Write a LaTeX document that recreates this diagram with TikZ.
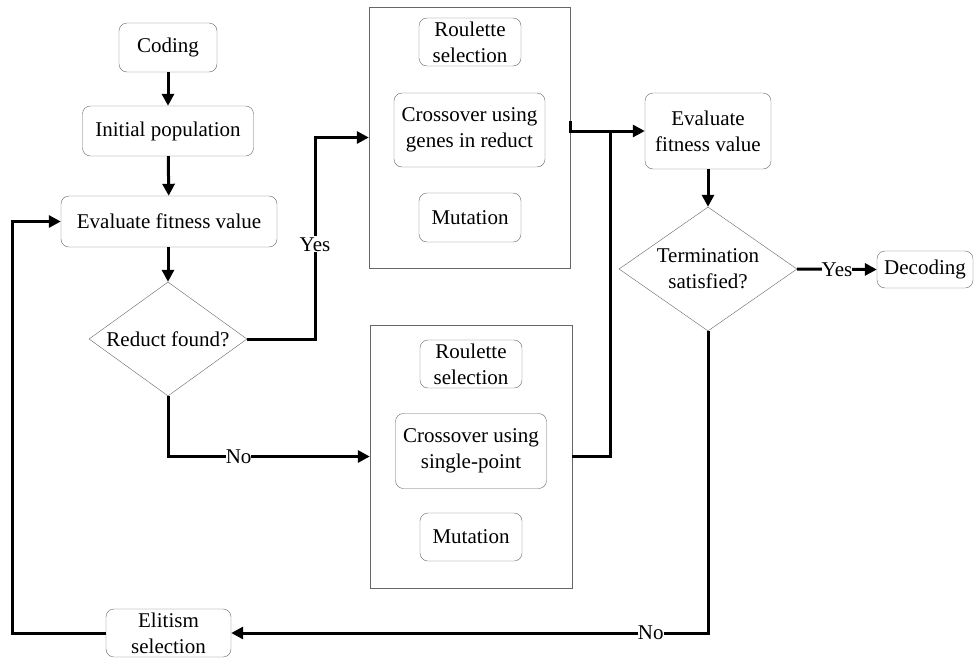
\documentclass[tikz,border=0pt]{standalone}
\usepackage{fontspec}
\setmainfont{Liberation Serif}
\usetikzlibrary{shapes.geometric,arrows.meta}
\tikzset{
    stepbox/.style={draw=black!60, rounded corners=8pt, align=center, inner sep=1pt},
    groupbox/.style={draw=black!60, inner sep=0pt},
    decision/.style={draw=black!60, diamond, align=center, inner sep=0pt},
    conn/.style={line width=3pt, -{Triangle[length=12pt,width=12pt]}},
    link/.style={line width=3pt},
    lbl/.style={fill=white, inner sep=1pt}
}
\begin{document}
\begin{tikzpicture}[x=1pt, y=-1pt, font=\fontsize{21}{26}\selectfont]
    \useasboundingbox (0,0) rectangle (974,659);
    % main loop
    \node[stepbox, minimum width=98pt, minimum height=49pt] (coding) at (168,47.5) {Coding};
    \node[stepbox, minimum width=171pt, minimum height=50pt] (init) at (168,131) {Initial population};
    \node[stepbox, minimum width=216pt, minimum height=51pt] (eval) at (169,221.5) {Evaluate fitness value};
    \node[decision, shape aspect=1.39, minimum width=158pt, minimum height=114pt] (reduct) at (168,339) {Reduct found?};
    \node[stepbox, minimum width=125pt, minimum height=48pt] (elit) at (168.5,633) {Elitism\\selection};
    % operators when a reduct is found
    \node[groupbox, minimum width=201pt, minimum height=261pt] (box1) at (469.5,137.5) {};
    \node[stepbox, minimum width=102pt, minimum height=48pt] (rs1) at (470,42) {Roulette\\selection};
    \node[stepbox, minimum width=151pt, minimum height=74pt] (cx1) at (469.5,130) {Crossover using\\genes in reduct};
    \node[stepbox, minimum width=102pt, minimum height=49pt] (mu1) at (470,217.5) {Mutation};
    % operators otherwise
    \node[groupbox, minimum width=202pt, minimum height=263pt] (box2) at (471,456.5) {};
    \node[stepbox, minimum width=102pt, minimum height=48pt] (rs2) at (471,364) {Roulette\\selection};
    \node[stepbox, minimum width=151pt, minimum height=75pt] (cx2) at (471,451) {Crossover using\\single-point};
    \node[stepbox, minimum width=102pt, minimum height=48pt] (mu2) at (471,537) {Mutation};
    % termination
    \node[stepbox, minimum width=126pt, minimum height=76pt] (eval2) at (708,131) {Evaluate\\fitness value};
    \node[decision, shape aspect=1.44, minimum width=178pt, minimum height=124pt] (term) at (708,269) {Termination\\satisfied?};
    \node[stepbox, minimum width=96pt, minimum height=37pt] (decode) at (925,269.5) {Decoding};
    \coordinate (out1) at (570,121);
    \coordinate (merge) at (610,131);
    \coordinate (back) at (12,633);

    \draw[conn] (coding) -- (init);
    \draw[conn] (init) -- (eval);
    \draw[conn] (eval.south -| reduct.north) -- (reduct.north);
    \draw[conn] (reduct.east) -- (315,339) -- node[lbl, pos=0.47] {Yes} (315,137.5) -- (box1.west);
    \draw[conn] (reduct.south) |- node[lbl, pos=0.675, inner sep=0pt] {No} (box2.west);
    \draw[conn] (out1) |- (eval2.west);
    \draw[link] (box2.east) -| (merge);
    \draw[conn] (eval2) -- (term);
    \draw[conn] (term.east) -- node[lbl, inner sep=0pt] {Yes} (decode.west);
    \draw[conn] (term.south) |- node[lbl, pos=0.56, inner sep=0pt] {No} (elit.east);
    \draw[conn] (elit.west) -- (back) |- (eval.west);
\end{tikzpicture}
\end{document}
